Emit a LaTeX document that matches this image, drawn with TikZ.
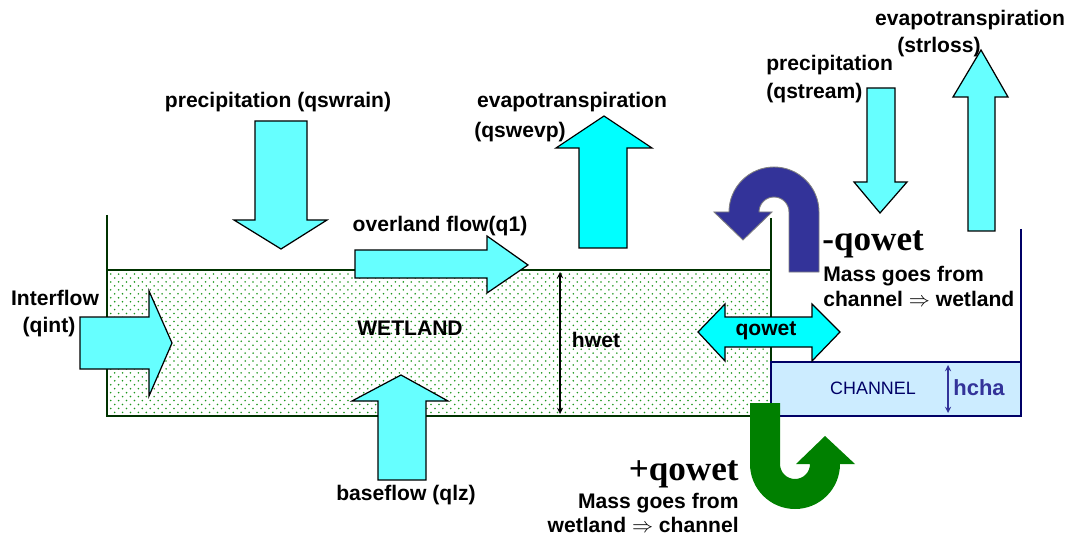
\documentclass[tikz,border=0pt]{standalone}
\usepackage{fontspec}
\setmainfont{Liberation Sans}
\newfontfamily\qowetfont{Liberation Serif}
\usetikzlibrary{patterns}
\definecolor{flow@light}{RGB}{102,255,255}
\definecolor{flow@cyan}{RGB}{0,255,255}
\definecolor{wet@line}{RGB}{0,51,0}
\definecolor{wet@dots}{RGB}{30,150,30}
\definecolor{chan@fill}{RGB}{204,236,255}
\definecolor{chan@line}{RGB}{0,0,102}
\definecolor{turn@blue}{RGB}{51,51,153}
\definecolor{turn@green}{RGB}{0,128,0}
\pgfdeclarepatternformonly{wet dots}{\pgfqpoint{-1pt}{-1pt}}{\pgfqpoint{5.5pt}{5.5pt}}{\pgfqpoint{4.5pt}{4.5pt}}{
  \pgfpathcircle{\pgfqpoint{0pt}{0pt}}{0.5pt}
  \pgfpathcircle{\pgfqpoint{2.25pt}{2.25pt}}{0.5pt}
  \pgfusepath{fill}
}
\tikzset{
  flow/.style={draw=black, line width=0.7pt, fill=flow@light},
  lbl/.style={font=\fontsize{12}{15.5}\selectfont\bfseries, inner sep=0pt},
  qlbl/.style={font=\fontsize{20}{24}\selectfont\qowetfont\bfseries, inner sep=0pt},
  wetwall/.style={wet@line, line width=1.1pt},
  chanwall/.style={chan@line, line width=1.1pt},
}

\begin{document}
\begin{tikzpicture}[x=0.2mm, y=-0.2mm]
\useasboundingbox (0,0) rectangle (1068,535);

% wetland
\fill[pattern=wet dots, pattern color=wet@dots] (107,270) rectangle (771,416);
\draw[wetwall] (107,215) -- (107,416) -- (771,416) -- (771,218);
\draw[wetwall] (107,270) -- (771,270);
\node[lbl] (wetland) at (410,328) {WETLAND};

% channel
\draw[chanwall, fill=chan@fill] (771,362) rectangle (1021,416);
\draw[chanwall] (1021,229) -- (1021,416);
\node[inner sep=0pt, chan@line, font=\fontsize{10.2}{12}\selectfont] (channel) at (873,388) {CHANNEL};

% depths
\coordinate (hwettop) at (560,272);
\coordinate (hwetbot) at (560,414);
\draw[stealth-stealth, line width=0.6pt] (hwettop) -- (hwetbot);
\node[lbl] (hwet) at (596,340) {hwet};
\coordinate (hchatop) at (948,365);
\coordinate (hchabot) at (948,413);
\draw[stealth-stealth, line width=0.6pt, turn@blue] (hchatop) -- (hchabot);
\node[lbl, turn@blue, font=\fontsize{12.5}{15}\selectfont\bfseries] (hcha) at (979,388) {hcha};

% precipitation (qswrain)
\draw[flow] (255,121) -- (307,121) -- (307,220) -- (327,220) -- (281,249)
  -- (234,220) -- (255,220) -- cycle;
\node[lbl] (qswrain) at (278,102) {precipitation (qswrain)};

% evapotranspiration (qswevp)
\draw[flow, fill=flow@cyan] (579,248) -- (579,148) -- (556,148) -- (604,116)
  -- (652,148) -- (627,148) -- (627,248) -- cycle;
\node[lbl] (qswevp) at (572,102) {evapotranspiration};
\node[lbl] (qswevpsub) at (520,132) {(qswevp)};

% overland flow (q1)
\draw[flow] (355,250) -- (487,250) -- (487,236) -- (528,265) -- (487,293)
  -- (487,278) -- (355,278) -- cycle;
\node[lbl] (q1) at (440,226) {overland flow(q1)};

% interflow (qint)
\draw[flow] (80,317) -- (149,317) -- (149,291) -- (172,343) -- (149,396)
  -- (149,369) -- (80,369) -- cycle;
\node[lbl] (qint) at (55,298) {Interflow};
\node[lbl] (qintsub) at (49,327) {(qint)};

% baseflow (qlz)
\draw[flow] (378,480) -- (378,401) -- (352,401) -- (401,375) -- (448,401)
  -- (426,401) -- (426,480) -- cycle;
\node[lbl] (qlz) at (406,495) {baseflow (qlz)};

% precipitation (qstream)
\draw[flow] (867,88) -- (895,88) -- (895,182) -- (907,182) -- (880,213)
  -- (854,182) -- (867,182) -- cycle;
\node[lbl, anchor=west, align=left] (qstream) at (766,79) {precipitation\\(qstream)};

% evapotranspiration (strloss)
\draw[flow] (968,231) -- (968,97) -- (953,97) -- (981,50) -- (1008,97)
  -- (995,97) -- (995,231) -- cycle;
\node[lbl] (strloss) at (970,20) {evapotranspiration};
\node[lbl] (strlosssub) at (939,47) {(strloss)};

% qowet
\draw[flow, fill=flow@cyan] (725,317) -- (812,317) -- (812,304) -- (840,332)
  -- (812,361) -- (812,347) -- (725,347) -- (725,361) -- (698,332)
  -- (725,304) -- cycle;
\node[lbl] (qowet) at (766,331) {qowet};

% channel -> wetland
\filldraw[turn@blue, draw=gray, line width=0.5pt] (789,272) -- (789,212)
  arc[start angle=0, end angle=-180, radius=15] -- (772,212) -- (743,240)
  -- (714,212) -- (729,212) arc[start angle=180, end angle=360, radius=45]
  -- (819,272) -- cycle;
\node[qlbl, anchor=base west] (minusqowet) at (822,250) {-qowet};
\node[lbl, anchor=west, align=left, font=\fontsize{12}{14.2}\selectfont\bfseries]
  (chantowet) at (823,286) {Mass goes from\\channel $\Rightarrow$ wetland};

% wetland -> channel
\fill[turn@green] (750,403) -- (780,403) -- (780,464)
  arc[start angle=180, end angle=0, radius=15] -- (796,464) -- (825,436)
  -- (855,464) -- (840,464) arc[start angle=0, end angle=180, radius=45]
  -- cycle;
\node[qlbl, anchor=base east] (plusqowet) at (739,480) {+qowet};
\node[lbl, anchor=east, align=right, font=\fontsize{12}{13.2}\selectfont\bfseries]
  (wettochan) at (739,513) {Mass goes from\\wetland $\Rightarrow$ channel};

\end{tikzpicture}
\end{document}
